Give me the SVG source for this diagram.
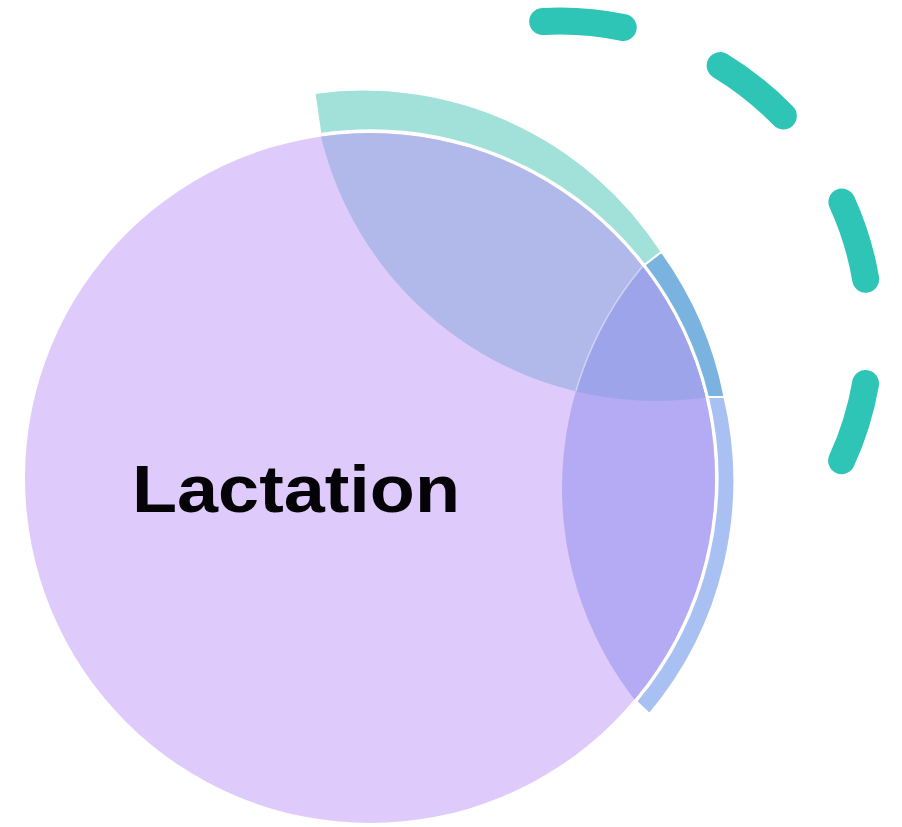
<svg xmlns="http://www.w3.org/2000/svg" width="902" height="827" viewBox="0 0 902 827">
  <style>
    .band { stroke: #ffffff; stroke-width: 2; stroke-linejoin: miter; }
    .label { font-family: "Liberation Sans", Arial, sans-serif; font-weight: 700; fill: #050308; }
    .dash { fill: none; stroke: #2ec4b6; stroke-width: 27; stroke-linecap: round; stroke-dasharray: 81 104.6; }
  </style>
  <defs>
    <clipPath id="clipPurple"><circle cx="370" cy="478" r="345"/></clipPath>
    <clipPath id="clipC2"><circle cx="656.4" cy="55.9" r="345"/></clipPath>
  </defs>
  <rect width="902" height="827" fill="#ffffff"/>

  <g id="band-top">
    <path class="band" fill="#a2e1d9" d="M314.5,93 A355,355 0 0 1 661.6,251.8 L644.6,265 A347.5,347.5 0 0 0 320.4,134 Z"/>
  </g>
  <g id="band-both">
    <path class="band" fill="#7ab3e0" d="M661.6,251.8 A367,367 0 0 1 724.5,397 L707.9,396.9 A347.5,347.5 0 0 0 644.6,265 Z"/>
  </g>
  <g id="band-right">
    <path class="band" fill="#a9c1f2" d="M724.5,397 A363,363 0 0 1 649.5,714 L636.2,701.4 A347.5,347.5 0 0 0 707.9,396.9 Z"/>
  </g>

  <g id="lactation">
    <circle cx="370" cy="478" r="345" fill="#dfcbfb"/>
    <g clip-path="url(#clipPurple)">
      <circle id="overlap-top" cx="656.4" cy="55.9" r="345" fill="#b1b9ea"/>
      <circle id="overlap-right" cx="907" cy="488" r="345" fill="#b4abf4"/>
      <g clip-path="url(#clipC2)">
        <circle id="overlap-both" cx="907" cy="488" r="345" fill="#9ea4e9"/>
        <circle cx="907" cy="488" r="345" fill="none" stroke="#ffffff" stroke-opacity="0.45" stroke-width="1.5"/>
      </g>
    </g>
    <text class="label" x="132" y="512" font-size="66" textLength="328" lengthAdjust="spacingAndGlyphs">Lactation</text>
  </g>

  <g id="connectors">
    <path class="dash" d="M542.7,21.5 A310,310 0 0 1 841,462"/>
  </g>
</svg>
